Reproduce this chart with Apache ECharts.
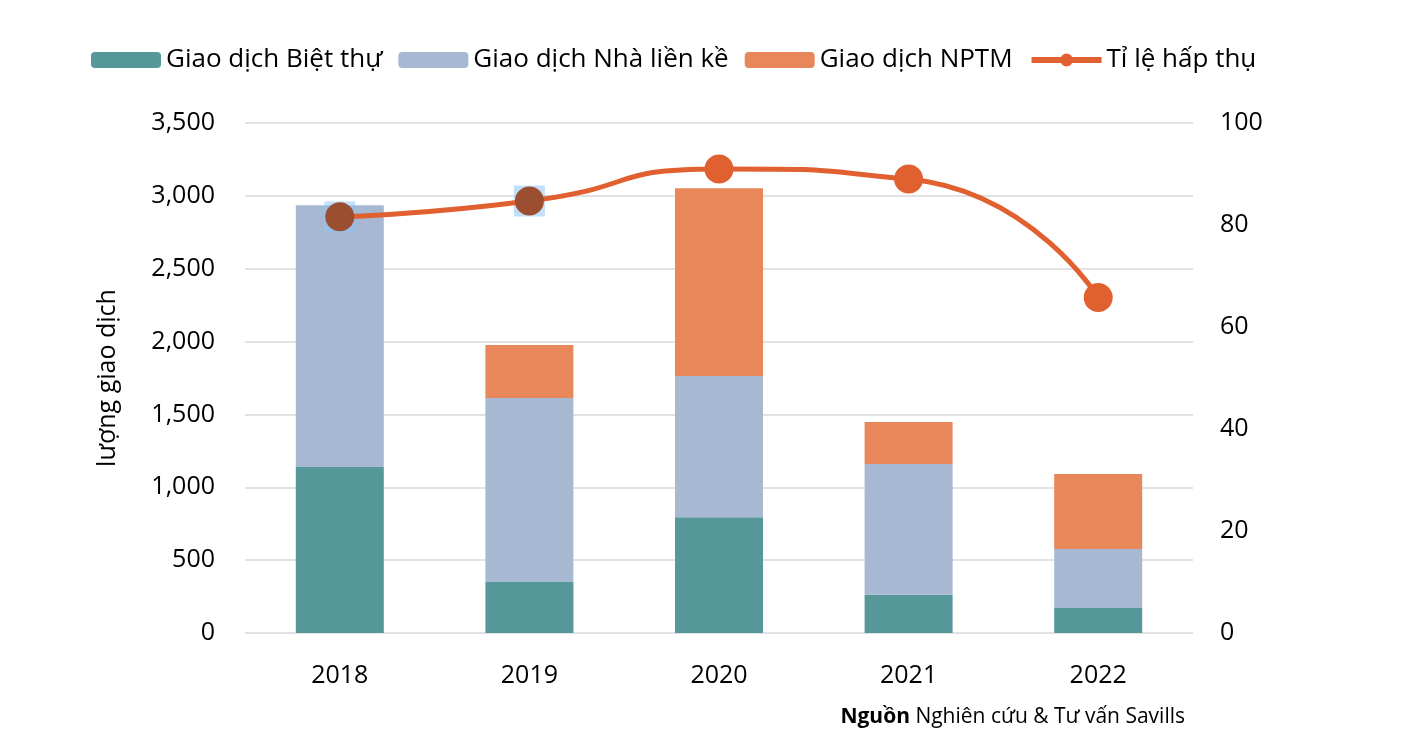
<!DOCTYPE html>
<html>
<head>
<meta charset="utf-8">
<script src="https://cdn.jsdelivr.net/npm/echarts@6/dist/echarts.min.js"></script>
<style>html,body{margin:0;padding:0;background:#fff;}#c{width:1406px;height:750px;}</style>
</head>
<body>
<div id="c"></div>
<script>
const categories = ['2018', '2019', '2020', '2021', '2022'];
const bietThu = [1140, 350, 795, 262, 172];
const nhaLienKe = [1795, 1263, 968, 898, 405];
const nptm = [0, 364, 1290, 288, 514];
const tiLeHapThu = [81.6, 84.7, 91, 89, 65.8];
const highlighted = [81.6, 84.7, null, null, null];
const leftTicks = {min: 0, max: 3500, interval: 500};
const rightTicks = {min: 0, max: 100, interval: 20};

const FONT = '"Open Sans", "Noto Sans", sans-serif';
const chart = echarts.init(document.getElementById('c'));
const lineColor = '#E0602F';
const markerColors = ['#9B4F30', '#9B4F30', lineColor, lineColor, lineColor];

chart.setOption({
  animation: false,
  textStyle: {fontFamily: FONT},
  legend: {
    top: 42,
    left: 86,
    itemWidth: 70,
    itemHeight: 16,
    itemGap: 16,
    textStyle: {fontSize: 26, color: '#000', fontFamily: FONT},
    data: ['Giao dịch Biệt thự', 'Giao dịch Nhà liền kề', 'Giao dịch NPTM',
      {name: 'Tỉ lệ hấp thụ', lineStyle: {width: 6, color: lineColor}, itemStyle: {color: lineColor}}]
  },
  grid: {left: 245, right: 213, top: 123, bottom: 117},
  xAxis: {
    type: 'category',
    data: categories,
    axisLine: {show: false},
    axisTick: {show: false},
    axisLabel: {fontSize: 25, color: '#000', margin: 30, fontFamily: FONT}
  },
  yAxis: [
    {
      type: 'value',
      min: leftTicks.min, max: leftTicks.max, interval: leftTicks.interval,
      name: 'lượng giao dịch',
      nameLocation: 'middle',
      nameGap: 125,
      nameTextStyle: {fontSize: 25, color: '#000', fontFamily: FONT},
      axisLabel: {fontSize: 25, color: '#000', margin: 30, fontFamily: FONT,
        formatter: v => v.toLocaleString('en-US')},
      splitLine: {lineStyle: {color: '#D9D9D9', width: 1.5}},
      axisLine: {show: false}, axisTick: {show: false}
    },
    {
      type: 'value',
      min: rightTicks.min, max: rightTicks.max, interval: rightTicks.interval,
      axisLabel: {fontSize: 25, color: '#000', margin: 27, fontFamily: FONT},
      splitLine: {show: false},
      axisLine: {show: false}, axisTick: {show: false}
    }
  ],
  series: [
    {name: 'Giao dịch Biệt thự', type: 'bar', stack: 'a', barWidth: 88, data: bietThu,
      itemStyle: {color: '#56979A'}},
    {name: 'Giao dịch Nhà liền kề', type: 'bar', stack: 'a', barWidth: 88, data: nhaLienKe,
      itemStyle: {color: '#A7B8D2'}},
    {name: 'Giao dịch NPTM', type: 'bar', stack: 'a', barWidth: 88, data: nptm,
      itemStyle: {color: '#E8875A'}},
    {name: 'sel', type: 'scatter', yAxisIndex: 1, data: highlighted, symbol: 'rect', symbolSize: 31,
      itemStyle: {color: 'rgba(140,195,245,0.65)'}, z: 3, silent: true},
    {name: 'Tỉ lệ hấp thụ', type: 'line', yAxisIndex: 1, smooth: 0.6,
      data: tiLeHapThu.map((v, i) => ({value: v, itemStyle: {color: markerColors[i]}})),
      symbol: 'circle', symbolSize: 29,
      lineStyle: {color: lineColor, width: 5},
      itemStyle: {color: lineColor},
      z: 5}
  ],
  graphic: [{
    type: 'text', right: 221, top: 707,
    style: {
      text: '{b|Nguồn} Nghiên cứu & Tư vấn Savills',
      rich: {b: {fontWeight: 'bold', fontSize: 21, fontFamily: FONT, fill: '#000'}},
      fontSize: 21, fontFamily: FONT, fill: '#000'
    }
  }]
});
</script>
</body>
</html>
